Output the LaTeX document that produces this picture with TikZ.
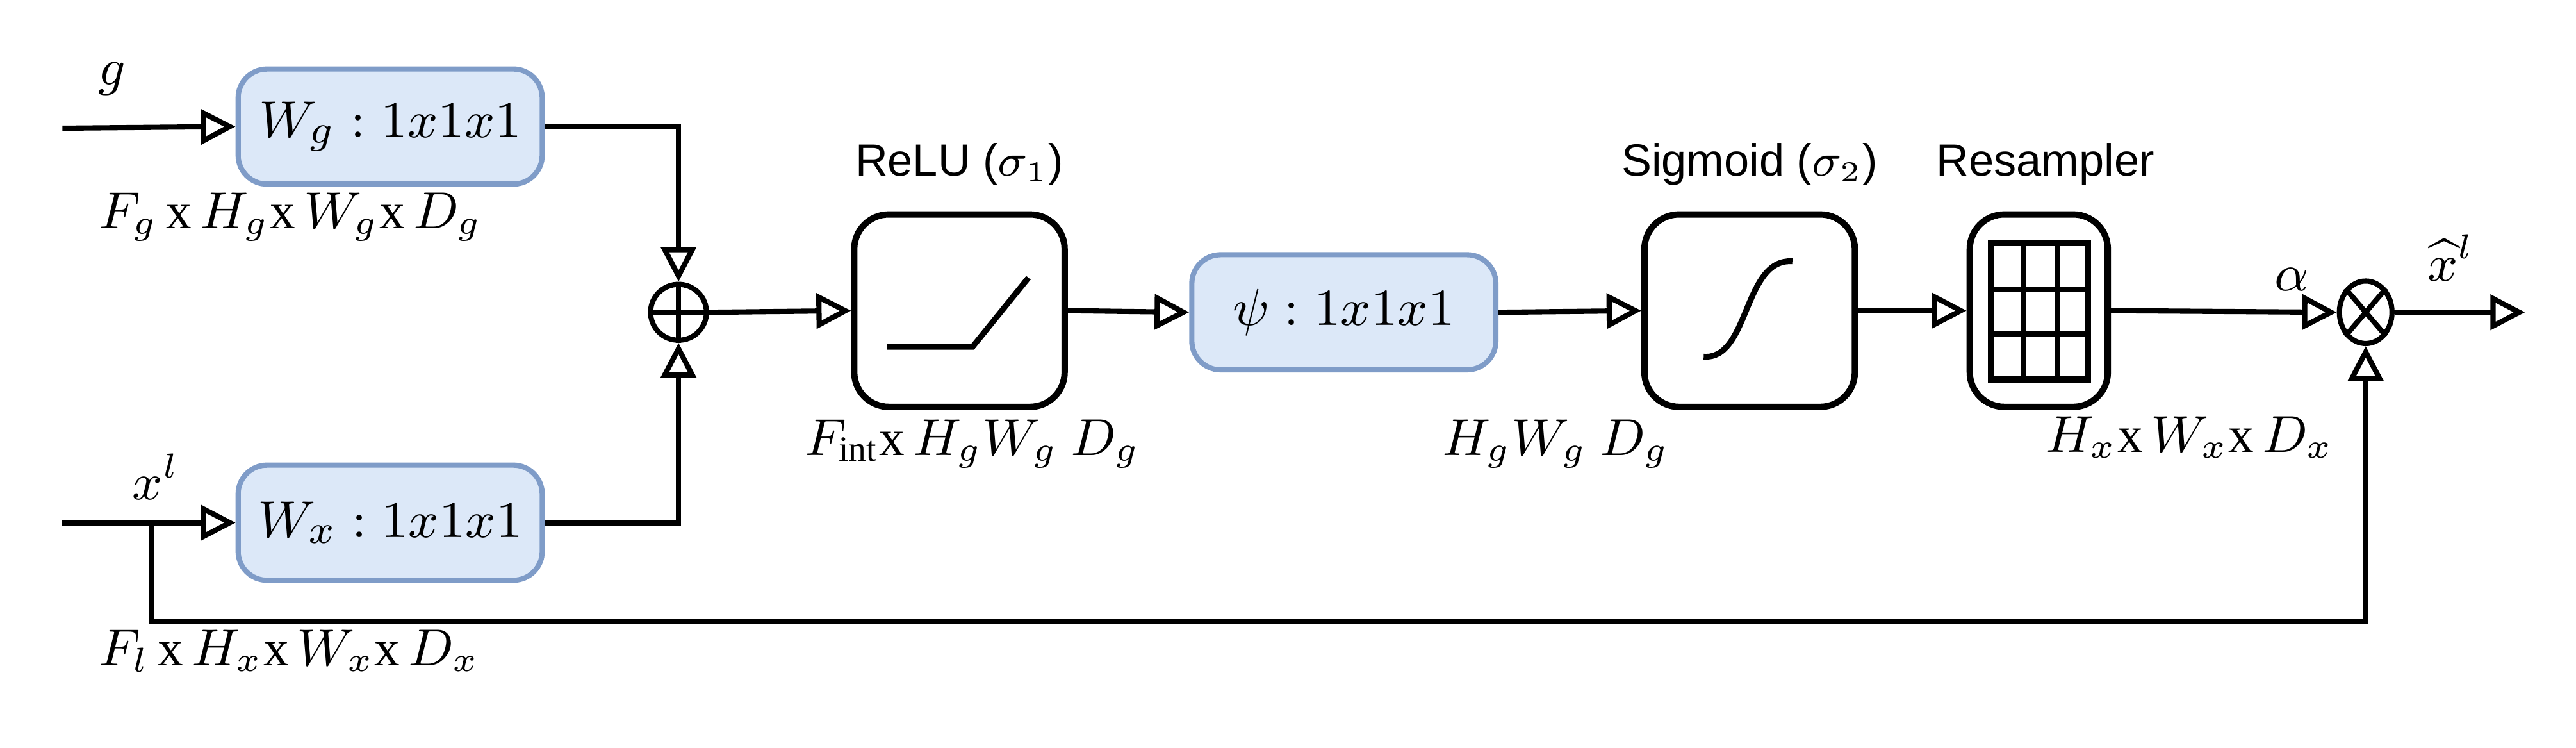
\documentclass[tikz,border=0pt]{standalone}
\usepackage{fontspec}
\setmainfont{Liberation Serif}
\setsansfont{Liberation Sans}
\usetikzlibrary{arrows.meta,positioning,shapes.geometric}
\definecolor{bfill}{HTML}{DCE8F8}
\definecolor{bdraw}{HTML}{7F9CC8}
\begin{document}
\begin{tikzpicture}[x=0.01cm,y=-0.01cm,line width=0.9pt,
  ar/.style={-{Triangle[open,length=6pt,width=6pt]}},
  conv/.style={draw=bdraw,fill=bfill,rounded corners=5pt,line width=0.9pt,minimum width=1.85cm,minimum height=0.7cm,font=\fontsize{9.5}{11}\selectfont},
  blk/.style={draw,rounded corners=6pt,line width=1.1pt,minimum width=1.28cm,minimum height=1.17cm},
  lab/.style={font=\fontsize{8.8}{10}\selectfont,inner sep=1pt},
  slab/.style={font=\sffamily\fontsize{7.8}{9}\selectfont},
  op/.style={draw,circle,minimum size=0.34cm,inner sep=0pt}]
\useasboundingbox (0,0) rectangle (1568,455);
% inputs
\coordinate (gin) at (38,78);
\coordinate (xin) at (38,318);
\node[conv] (wg) at (237.5,77) {$W_g: 1x1x1$};
\node[conv] (wx) at (237.5,318) {$W_x: 1x1x1$};
\node[lab] (g) at (68,48) {$g$};
\node[lab] (xl) at (95,290) {$x^l$};
\node[lab,anchor=west] (fg) at (55,132) {$F_g$\,x\,$H_g$x\,$W_g$x\,$D_g$};
\node[lab,anchor=west] (fl) at (55,396) {$F_l$\,x\,$H_x$x\,$W_x$x\,$D_x$};
\draw[ar] (gin) -- (wg.west);
\draw[ar] (xin) -- (wx.west);
% add
\node[op] (add) at (413,190) {};
\draw (add.north) -- (add.south) (add.west) -- (add.east);
\draw[ar] (wg.east) -| (add.north);
\draw[ar] (wx.east) -| (add.south);
% relu
\node[blk] (relu) at (584,189) {};
\node[slab] (relul) at (584,100) {ReLU ($\sigma_1$)};
\draw[line width=1pt] ([shift={(-44,22)}]relu.center) -- ([shift={(8,22)}]relu.center) -- ([shift={(42,-20)}]relu.center);
\node[lab] (fint) at (592,270) {$F_{\mathrm{int}}$x\,$H_gW_g\ D_g$};
\draw[ar] (add.east) -- (relu.west);
% psi
\node[conv] (psi) at (818,190) {$\psi: 1x1x1$};
\draw[ar] (relu.east) -- (psi.west);
% sigmoid
\node[blk] (sig) at (1065,189) {};
\node[slab] (sigl) at (1065,100) {Sigmoid ($\sigma_2$)};
\draw[line width=1pt] ([shift={(-28,28)}]sig.center) .. controls ([shift={(0,30)}]sig.center) and ([shift={(-4,-32)}]sig.center) .. ([shift={(26,-30)}]sig.center);
\node[lab] (hw) at (947,270) {$H_gW_g\ D_g$};
\draw[ar] (psi.east) -- (sig.west);
% resampler
\node[blk,minimum width=0.84cm] (res) at (1241,189) {};
\node[slab] (resl) at (1245,100) {Resampler};
\draw[line width=1.1pt] (1212,148) rectangle (1271,231);
\foreach \xx in {1232,1252} \draw (\xx,148) -- (\xx,231);
\foreach \yy in {176,203} \draw (1212,\yy) -- (1271,\yy);
\node[lab] (hx) at (1333,266) {$H_x$x\,$W_x$x\,$D_x$};
\draw[ar] (sig.east) -- (res.west);
% multiply
\node[draw,ellipse,inner sep=0pt,minimum width=0.32cm,minimum height=0.38cm] (mul) at (1440,190) {};
\draw (mul.north west) -- (mul.south east) (mul.north east) -- (mul.south west);
\draw[ar] (res.east) -- (mul.west);
\node[lab] (al) at (1395,170) {$\alpha$};
\coordinate (out) at (1537,190);
\draw[ar] (mul.east) -- (out);
\node[lab,anchor=south] (xh) at (1492,176) {$\widehat{x}^l$};
% skip
\coordinate (sk) at (92,318);
\draw[ar] (sk) -- (92,378) -| (mul.south);
\end{tikzpicture}
\end{document}
